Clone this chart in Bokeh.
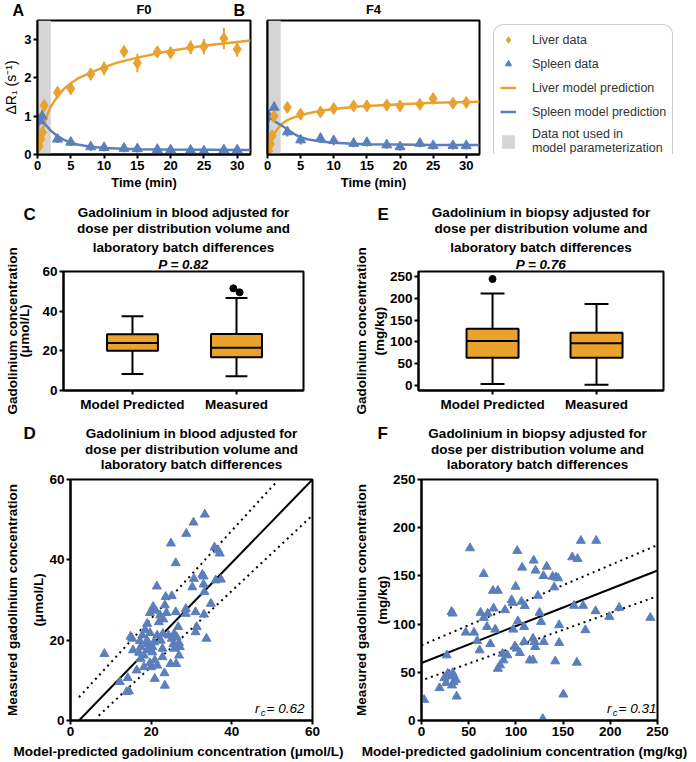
import math
from bokeh.plotting import figure
from bokeh.layouts import column, row
from bokeh.models import Label, Legend, LegendItem, FixedTicker, Range1d, Title
from bokeh.core.properties import value
from bokeh.embed import file_html
from bokeh.resources import INLINE

FONT = "Liberation Sans"
ORANGE = "#E9A22E"
BLUE = "#5B7EBD"
GRAY = "#D5D5D5"

# ---------------- data ----------------
# Panel A (F0)
a_liver_t = [0.25, 0.5, 0.75, 1.0, 3, 5, 8, 10, 13, 15, 18, 20, 23, 25, 28, 30]
a_liver_y = [0.22, 0.4, 0.58, 1.28, 1.62, 1.72, 2.1, 2.25, 2.69, 2.39, 2.68, 2.66, 2.8, 2.82, 3.03, 2.75]
a_liver_err = [0.1, 0.12, 0.12, 0.15, 0.15, 0.15, 0.16, 0.18, 0.15, 0.24, 0.15, 0.15, 0.18, 0.2, 0.28, 0.2]
a_spleen_t = [0.3, 0.7, 3, 5, 8, 10, 13, 15, 18, 20, 23, 25, 28, 30]
a_spleen_y = [0.88, 1.0, 0.4, 0.32, 0.2, 0.18, 0.16, 0.15, 0.13, 0.12, 0.11, 0.09, 0.12, 0.12]
a_spleen_err = [0.12, 0.15, 0.1, 0.1, 0.1, 0.1, 0.1, 0.1, 0.1, 0.08, 0.08, 0.08, 0.1, 0.1]
a_liver_model_t = [0, 0.25, 0.5, 1, 1.5, 2, 3, 4, 5, 6, 8, 10, 12, 15, 18, 20, 25, 28, 32]
a_liver_model_y = [0, 0.25, 0.45, 0.8, 1.05, 1.25, 1.52, 1.72, 1.86, 1.98, 2.14, 2.28, 2.4, 2.53, 2.64, 2.71, 2.84, 2.9, 2.98]
a_spleen_model_t = [0, 0.15, 0.5, 1, 2, 3, 4, 5, 6, 8, 10, 15, 20, 25, 32]
a_spleen_model_y = [0, 1.05, 0.98, 0.82, 0.62, 0.48, 0.38, 0.31, 0.26, 0.2, 0.17, 0.14, 0.13, 0.125, 0.12]

# Panel B (F4)
b_liver_t = [0.2, 0.45, 0.7, 1.0, 3, 5, 8, 10, 13, 15, 18, 20, 23, 25, 28, 30]
b_liver_y = [0.1, 0.27, 0.49, 1.0, 1.23, 1.05, 1.11, 1.2, 1.27, 1.27, 1.29, 1.27, 1.31, 1.46, 1.34, 1.36]
b_liver_err = [0.1, 0.1, 0.12, 0.12, 0.12, 0.12, 0.12, 0.12, 0.12, 0.12, 0.12, 0.12, 0.12, 0.12, 0.12, 0.12]
b_spleen_t = [0.2, 1.0, 3, 5, 8, 10, 13, 15, 18, 20, 23, 25, 28, 30]
b_spleen_y = [1.0, 1.23, 0.59, 0.38, 0.42, 0.36, 0.29, 0.31, 0.25, 0.2, 0.29, 0.23, 0.23, 0.23]
b_spleen_err = [0.15, 0.15, 0.12, 0.12, 0.12, 0.12, 0.1, 0.1, 0.1, 0.1, 0.1, 0.1, 0.1, 0.1]
b_liver_model_t = [0, 0.5, 1, 2, 3, 4, 5, 6, 8, 10, 13, 15, 20, 25, 32]
b_liver_model_y = [0, 0.32, 0.55, 0.78, 0.9, 0.97, 1.02, 1.07, 1.14, 1.19, 1.24, 1.27, 1.31, 1.35, 1.38]
b_spleen_model_t = [0, 0.1, 0.5, 1, 2, 3, 4, 5, 6, 8, 10, 13, 15, 20, 25, 32]
b_spleen_model_y = [0, 1.0, 0.95, 0.87, 0.77, 0.66, 0.54, 0.45, 0.4, 0.34, 0.31, 0.28, 0.27, 0.26, 0.25, 0.245]

excluded_window = [0, 2]  # minutes not used in model parameterization
kin_ymax = 3.5

legend_labels = ["Liver data", "Spleen data", "Liver model prediction", "Spleen model prediction",
                 "Data not used in\nmodel parameterization"]

# Panels C / E (box plots)
box_categories = ["Model Predicted", "Measured"]
c_min = [8.3, 7.2]
c_q1 = [20.0, 16.8]
c_med = [24.0, 21.5]
c_q3 = [28.3, 28.5]
c_max = [37.5, 46.7]
c_out_cat = [1, 1]
c_out_jitter = [-0.03, 0.03]
c_out_y = [51.5, 49.5]
c_p = "P = 0.82"

e_min = [4, 2]
e_q1 = [64, 64]
e_med = [102, 97]
e_q3 = [130, 121]
e_max = [211, 187]
e_out_cat = [0]
e_out_jitter = [0.0]
e_out_y = [244]
e_p = "P = 0.76"

# Panel D scatter (model-predicted vs measured, umol/L)
d_pred = [33.3, 30.5, 28.7, 24.9, 35.7, 36.6, 37.0, 26.1, 32.7, 30.6, 33.0, 36.0, 37.3, 21.4, 30.2, 33.0, 33.2,
          23.6, 25.1, 34.8, 23.4, 28.6, 26.1, 19.7, 20.5, 21.1, 31.0, 22.2, 23.0, 23.8, 21.9, 28.6, 33.1, 31.3,
          31.0, 26.7, 25.7, 24.3, 22.9, 21.5, 19.0, 18.5, 19.7, 17.8, 14.9, 15.3, 17.2, 19.0, 20.7, 22.4, 25.1,
          26.3, 26.9, 25.5, 25.7, 27.1, 33.7, 15.5, 17.4, 19.0, 20.3, 22.8, 17.0, 19.0, 20.3, 26.9, 8.4, 17.4,
          18.2, 24.8, 26.2, 22.8, 20.9, 19.7, 16.4, 18.2, 20.0, 21.5, 23.3, 20.9, 14.2, 12.2, 23.4, 14.5, 13.9]
d_meas = [51.3, 49.3, 46.5, 44.1, 43.1, 42.4, 41.6, 39.2, 36.3, 35.3, 35.9, 34.9, 35.1, 33.4, 33.2, 33.9, 32.0,
          30.8, 31.0, 29.1, 28.7, 27.8, 27.0, 26.8, 28.3, 27.4, 27.0, 26.2, 25.2, 26.8, 24.5, 26.6, 26.4, 23.3,
          22.0, 23.3, 21.6, 21.2, 21.6, 21.2, 24.1, 22.6, 21.8, 21.2, 20.9, 20.4, 19.8, 19.9, 19.5, 19.9, 20.4,
          20.8, 19.3, 19.0, 17.9, 18.3, 20.4, 17.5, 18.3, 19.1, 18.3, 17.9, 16.9, 17.5, 17.0, 16.2, 16.6, 15.4,
          16.2, 14.1, 14.1, 15.8, 15.0, 14.3, 12.5, 13.3, 13.3, 13.7, 11.8, 10.4, 10.6, 9.6, 8.7, 7.3, 7.1]
d_fit_x = [2.1, 60]
d_fit_y = [0, 60]
d_hi_x = [2.1, 50.9]
d_hi_y = [5.8, 59.2]
d_lo_x = [7.0, 60]
d_lo_y = [1.2, 51.1]
d_rc = "0.62"

# Panel F scatter (mg/kg)
f_pred = [2.8, 19.1, 24.3, 26.0, 27.8, 26.7, 31.2, 33.0, 32.3, 34.0, 36.5, 37.2, 31.9, 33.0, 46.9, 51.4, 55.6,
          59.0, 61.5, 62.5, 65.9, 66.0, 69.4, 70.1, 72.9, 75.7, 76.4, 78.1, 80.9, 80.9, 83.3, 85.8, 86.8, 88.5,
          91.0, 95.5, 96.5, 97.2, 99.7, 99.0, 100.7, 101.4, 102.1, 104.2, 105.9, 106.6, 109.4, 108.7, 108.7,
          114.6, 118.1, 118.1, 118.8, 119.8, 120.5, 120.8, 123.3, 125.0, 126.7, 129.2, 128.5, 129.5, 132.6,
          138.9, 140.6, 142.4, 141.7, 144.8, 145.8, 145.8, 150.3, 159.7, 161.5, 165.3, 164.6, 168.8, 171.2,
          173.6, 184.4, 185.1, 199.0, 209.4, 242.4]
f_meas = [21.5, 33.7, 44.1, 38.9, 48.6, 67.7, 45.8, 49.3, 36.5, 39.9, 42.4, 25.0, 112.8, 111.1, 91.3, 178.8, 91.3,
          82.6, 72.9, 111.8, 152.1, 106.6, 97.2, 111.1, 79.4, 134.7, 116.3, 94.4, 134.7, 53.8, 57.3, 69.4, 62.5,
          114.6, 67.7, 125.0, 122.2, 94.4, 138.9, 77.1, 74.7, 176.0, 103.1, 70.1, 123.3, 158.7, 118.8, 97.2, 81.6,
          62.5, 62.5, 85.1, 166.0, 81.6, 76.4, 155.6, 129.5, 111.8, 102.4, 150.0, 1.7, 81.6, 159.7, 149.3, 138.2,
          148.6, 61.5, 147.6, 99.0, 80.6, 27.1, 169.4, 119.1, 167.7, 60.1, 186.5, 119.1, 93.8, 113.5, 186.5,
          107.6, 117.0, 106.6]
f_fit_x = [0, 250]
f_fit_y = [59.7, 155.6]
f_hi_x = [0, 250]
f_hi_y = [78, 182]
f_lo_x = [4, 250]
f_lo_y = [43, 129]
f_rc = "0.31"

TITLE_BLOOD = ["Gadolinium in blood adjusted for", "dose per distribution volume and", "laboratory batch differences"]
TITLE_BIOPSY = ["Gadolinium in biopsy adjusted for", "dose per distribution volume and", "laboratory batch differences"]

W = 696


# ---------------- helpers ----------------
def make_fig(w, h, xr, yr, left, right, top, bottom, xticks=None, yticks=None, fs="13.5px"):
    p = figure(width=w, height=h, x_range=Range1d(*xr), y_range=Range1d(*yr), title=None,
               output_backend="svg", toolbar_location=None,
               min_border_left=left, min_border_right=right,
               min_border_top=top, min_border_bottom=bottom)
    p.xgrid.visible = False
    p.ygrid.visible = False
    p.outline_line_color = "black"
    p.outline_line_width = 2
    p.background_fill_color = "white"
    p.border_fill_color = "white"
    for ax, ticks in ((p.xaxis[0], xticks), (p.yaxis[0], yticks)):
        ax.axis_line_width = 2
        ax.axis_line_color = "black"
        ax.major_tick_line_width = 2
        ax.major_tick_line_color = "black"
        ax.major_tick_out = 4
        ax.major_tick_in = 0
        ax.minor_tick_line_color = None
        ax.major_label_text_font = FONT
        ax.major_label_text_font_style = "bold"
        ax.major_label_text_font_size = fs
        ax.major_label_text_color = "black"
        ax.major_label_standoff = 2
        ax.axis_label_text_font = FONT
        ax.axis_label_text_font_style = "bold"
        ax.axis_label_text_font_size = "13.5px"
        ax.axis_label_text_color = "black"
        if ticks is not None:
            ax.ticker = FixedTicker(ticks=ticks)
    return p


def ylabel(p, text, lh, standoff, size="13.5px", style="bold"):
    ax = p.yaxis[0]
    ax.axis_label = text
    ax.axis_label_text_line_height = lh
    ax.axis_label_standoff = standoff
    ax.axis_label_text_font_size = size
    ax.axis_label_text_font_style = style


def strip(h, w=W):
    s = figure(width=w, height=h, x_range=Range1d(0, w), y_range=Range1d(h, 0), title=None,
               x_axis_type=None, y_axis_type=None, output_backend="svg", toolbar_location=None,
               min_border=0)
    s.xgrid.visible = False
    s.ygrid.visible = False
    s.outline_line_color = None
    s.background_fill_color = "white"
    s.border_fill_color = "white"
    return s


def put(s, xs, ys, texts, size="13.5px", style="bold", align="center"):
    s.text(x=xs, y=ys, text=texts, text_font=value(FONT), text_font_size=value(size),
           text_font_style=style, text_align=align, text_baseline="middle", text_color="black")


def lab(p, x, y, text, size="13.5px", style="bold", align="center"):
    p.add_layout(Label(x=x, y=y, x_units="screen", y_units="screen", text=text,
                       text_font=FONT, text_font_size=size, text_font_style=style,
                       text_align=align, text_baseline="middle", text_color="black"))


def kin_glyphs(p, lmt, lmy, smt, smy):
    band = p.quad(left=[excluded_window[0]], right=[excluded_window[1]], bottom=[0], top=[kin_ymax],
                  fill_color=GRAY, line_color=None)
    l1 = p.line(lmt, lmy, line_color=ORANGE, line_width=2.5)
    l2 = p.line(smt, smy, line_color=BLUE, line_width=2.5)
    return band, l1, l2


def kinetics(p, lt, ly, le, st, sy, se, lmt, lmy, smt, smy):
    kin_glyphs(p, lmt, lmy, smt, smy)
    p.segment(x0=lt, x1=lt, y0=[a - b for a, b in zip(ly, le)], y1=[a + b for a, b in zip(ly, le)],
              line_color=ORANGE, line_width=2)
    p.segment(x0=st, x1=st, y0=[a - b for a, b in zip(sy, se)], y1=[a + b for a, b in zip(sy, se)],
              line_color=BLUE, line_width=2)
    p.scatter(st, sy, marker="triangle", size=10, fill_color=BLUE, line_color=BLUE)
    p.scatter(lt, ly, marker="diamond", size=12, fill_color=ORANGE, line_color=ORANGE)
    p.xaxis[0].axis_label = "Time (min)"
    p.xaxis[0].axis_label_text_font_size = "13px"
    p.xaxis[0].axis_label_standoff = 2


def boxplot(p, lo, q1, med, q3, hi, out_cat, out_jit, out_y, box_w, cap_w):
    xs = list(range(len(med)))
    p.segment(x0=xs, x1=xs, y0=q3, y1=hi, line_color="black", line_width=2)
    p.segment(x0=xs, x1=xs, y0=q1, y1=lo, line_color="black", line_width=2)
    p.segment(x0=[x - cap_w / 2 for x in xs], x1=[x + cap_w / 2 for x in xs], y0=hi, y1=hi,
              line_color="black", line_width=2)
    p.segment(x0=[x - cap_w / 2 for x in xs], x1=[x + cap_w / 2 for x in xs], y0=lo, y1=lo,
              line_color="black", line_width=2)
    p.vbar(x=xs, width=box_w, bottom=q1, top=q3, fill_color=ORANGE, line_color="black", line_width=2)
    p.segment(x0=[x - box_w / 2 for x in xs], x1=[x + box_w / 2 for x in xs], y0=med, y1=med,
              line_color="black", line_width=2)
    p.scatter([c + j for c, j in zip(out_cat, out_jit)], out_y, marker="circle", size=7,
              fill_color="black", line_color="black")
    p.xaxis[0].ticker = FixedTicker(ticks=xs)
    p.xaxis[0].major_label_overrides = {i: c for i, c in enumerate(box_categories)}


def rc_label(p, xr, y, val):
    lab(p, xr, y, "= " + val, size="13.5px", style="italic", align="right")
    lab(p, xr - 39, y - 4, "c", size="9.5px", style="italic", align="right")
    lab(p, xr - 45, y, "r", size="13.5px", style="italic", align="right")


def box_titles(p, last_line, ptext):
    # first added sits closest to the frame
    p.add_layout(Title(text=ptext, align="center", text_font=FONT, text_font_size="13.5px",
                       text_font_style="bold italic", text_color="black", standoff=0), "above")
    p.add_layout(Title(text=last_line, align="center", text_font=FONT, text_font_size="13.5px",
                       text_font_style="bold", text_color="black", standoff=0), "above")


# ---------------- Row 1: kinetics ----------------
h1 = strip(19)
put(h1, [12, 233], [9.5, 9.5], ["A", "B"], size="16px", align="left")
put(h1, [143.5, 373], [8.5, 8.5], ["F0", "F4"], size="13px")

pA = make_fig(255, 181, (0, 32), (0, kin_ymax), 37, 5, 1, 46,
              xticks=[0, 5, 10, 15, 20, 25, 30], yticks=[0, 1, 2, 3], fs="13px")
kinetics(pA, a_liver_t, a_liver_y, a_liver_err, a_spleen_t, a_spleen_y, a_spleen_err,
         a_liver_model_t, a_liver_model_y, a_spleen_model_t, a_spleen_model_y)
ylabel(pA, "\u0394R\u2081 (s\u207b\u00b9)", 1.0, 2, size="14px", style="normal")

pB = make_fig(234, 181, (0, 32), (0, kin_ymax), 12, 10, 1, 46,
              xticks=[0, 5, 10, 15, 20, 25, 30], yticks=[], fs="13px")
kinetics(pB, b_liver_t, b_liver_y, b_liver_err, b_spleen_t, b_spleen_y, b_spleen_err,
         b_liver_model_t, b_liver_model_y, b_spleen_model_t, b_spleen_model_y)

# legend panel: legend-only renderers of panel B's series, kept outside this panel's visible range
pL = figure(width=207, height=181, x_range=Range1d(-100, -99), y_range=Range1d(-100, -99), title=None,
            x_axis_type=None, y_axis_type=None, output_backend="svg", toolbar_location=None,
            min_border=0)
pL.xgrid.visible = False
pL.ygrid.visible = False
pL.outline_line_color = None
pL.background_fill_color = "white"
pL.border_fill_color = "white"
r1 = pL.scatter(b_liver_t, b_liver_y, marker="diamond", size=12, fill_color=ORANGE, line_color=ORANGE)
r2 = pL.scatter(b_spleen_t, b_spleen_y, marker="triangle", size=10, fill_color=BLUE, line_color=BLUE)
rb, r3, r4 = kin_glyphs(pL, b_liver_model_t, b_liver_model_y, b_spleen_model_t, b_spleen_model_y)
legend = Legend(items=[LegendItem(label=t, renderers=[r]) for t, r in zip(legend_labels, [r1, r2, r3, r4, rb])],
                location="top_left")
legend.margin = 4
legend.padding = 6
legend.spacing = 7
legend.glyph_width = 16
legend.glyph_height = 17
legend.label_height = 17
legend.label_standoff = 16
legend.label_text_font = FONT
legend.label_text_font_size = "12.5px"
legend.label_text_color = "#333333"
legend.label_text_line_height = 1.15
legend.border_line_color = "#999999"
legend.border_line_width = 1.5
legend.background_fill_color = "white"
if "border_radius" in Legend.properties():
    legend.border_radius = 10
pL.add_layout(legend)

# ---------------- Row 2: box plots ----------------
h2 = strip(37)
put(h2, [23, 377], [14, 14], ["C", "E"], size="17px", align="left")
put(h2, [183] * 2, [12, 27.5], TITLE_BLOOD[:2])
put(h2, [540.5] * 2, [12, 27.5], TITLE_BIOPSY[:2])

pC = make_fig(350, 181, (-0.663, 1.644), (0, 60), 63, 47, 33, 28, yticks=[0, 20, 40, 60])
boxplot(pC, c_min, c_q1, c_med, c_q3, c_max, c_out_cat, c_out_jitter, c_out_y, 0.49, 0.21)
box_titles(pC, TITLE_BLOOD[2], c_p)
ylabel(pC, "Gadolinium concentration\n(\u03bcmol/L)", 0.85, 7, size="13.5px")

pE = make_fig(346, 181, (-0.712, 1.644), (-11, 261), 68, 33, 33, 28, yticks=[0, 50, 100, 150, 200, 250])
boxplot(pE, e_min, e_q1, e_med, e_q3, e_max, e_out_cat, e_out_jitter, e_out_y, 0.5, 0.23)
box_titles(pE, TITLE_BIOPSY[2], e_p)
ylabel(pE, "Gadolinium concentration\n(mg/kg)", 1.2, 0, size="13.5px")

# ---------------- Row 3: scatter ----------------
h3 = strip(55)
put(h3, [23, 377], [15, 15], ["D", "F"], size="17px", align="left")
put(h3, [191] * 3, [15, 30.5, 46], TITLE_BLOOD)
put(h3, [537] * 3, [15, 30.5, 46], TITLE_BIOPSY)

pD = make_fig(350, 268, (0, 60), (0, 60), 70, 38, 6, 21, xticks=[0, 20, 40, 60], yticks=[0, 20, 40, 60])
pD.line(d_hi_x, d_hi_y, line_color="black", line_width=2, line_dash="2 4")
pD.line(d_lo_x, d_lo_y, line_color="black", line_width=2, line_dash="2 4")
pD.line(d_fit_x, d_fit_y, line_color="black", line_width=2)
pD.scatter(d_pred, d_meas, marker="triangle", size=9, fill_color=BLUE, line_color=BLUE)
ylabel(pD, "Measured gadolinium concentration\n\n(\u03bcmol/L)", 0.87, 0)
rc_label(pD, 234, 12, d_rc)

pF = make_fig(346, 268, (0, 250), (0, 250), 67, 39, 6, 21, xticks=[0, 50, 100, 150, 200, 250],
              yticks=[0, 50, 100, 150, 200, 250])
pF.line(f_hi_x, f_hi_y, line_color="black", line_width=2, line_dash="2 4")
pF.line(f_lo_x, f_lo_y, line_color="black", line_width=2, line_dash="2 4")
pF.line(f_fit_x, f_fit_y, line_color="black", line_width=2)
pF.scatter(f_pred, f_meas, marker="triangle", size=9, fill_color=BLUE, line_color=BLUE)
ylabel(pF, "Measured gadolinium concentration\n(mg/kg)", 1.42, 0)
rc_label(pF, 235, 12, f_rc)

h4 = strip(21)
put(h4, [178, 524], [10, 10], ["Model-predicted gadolinium concentration (\u03bcmol/L)",
                                "Model-predicted gadolinium concentration (mg/kg)"])

layout = column(h1, row(pA, pB, pL), h2, row(pC, pE), h3, row(pD, pF), h4)
open("out.html", "w").write(file_html(layout, INLINE))
